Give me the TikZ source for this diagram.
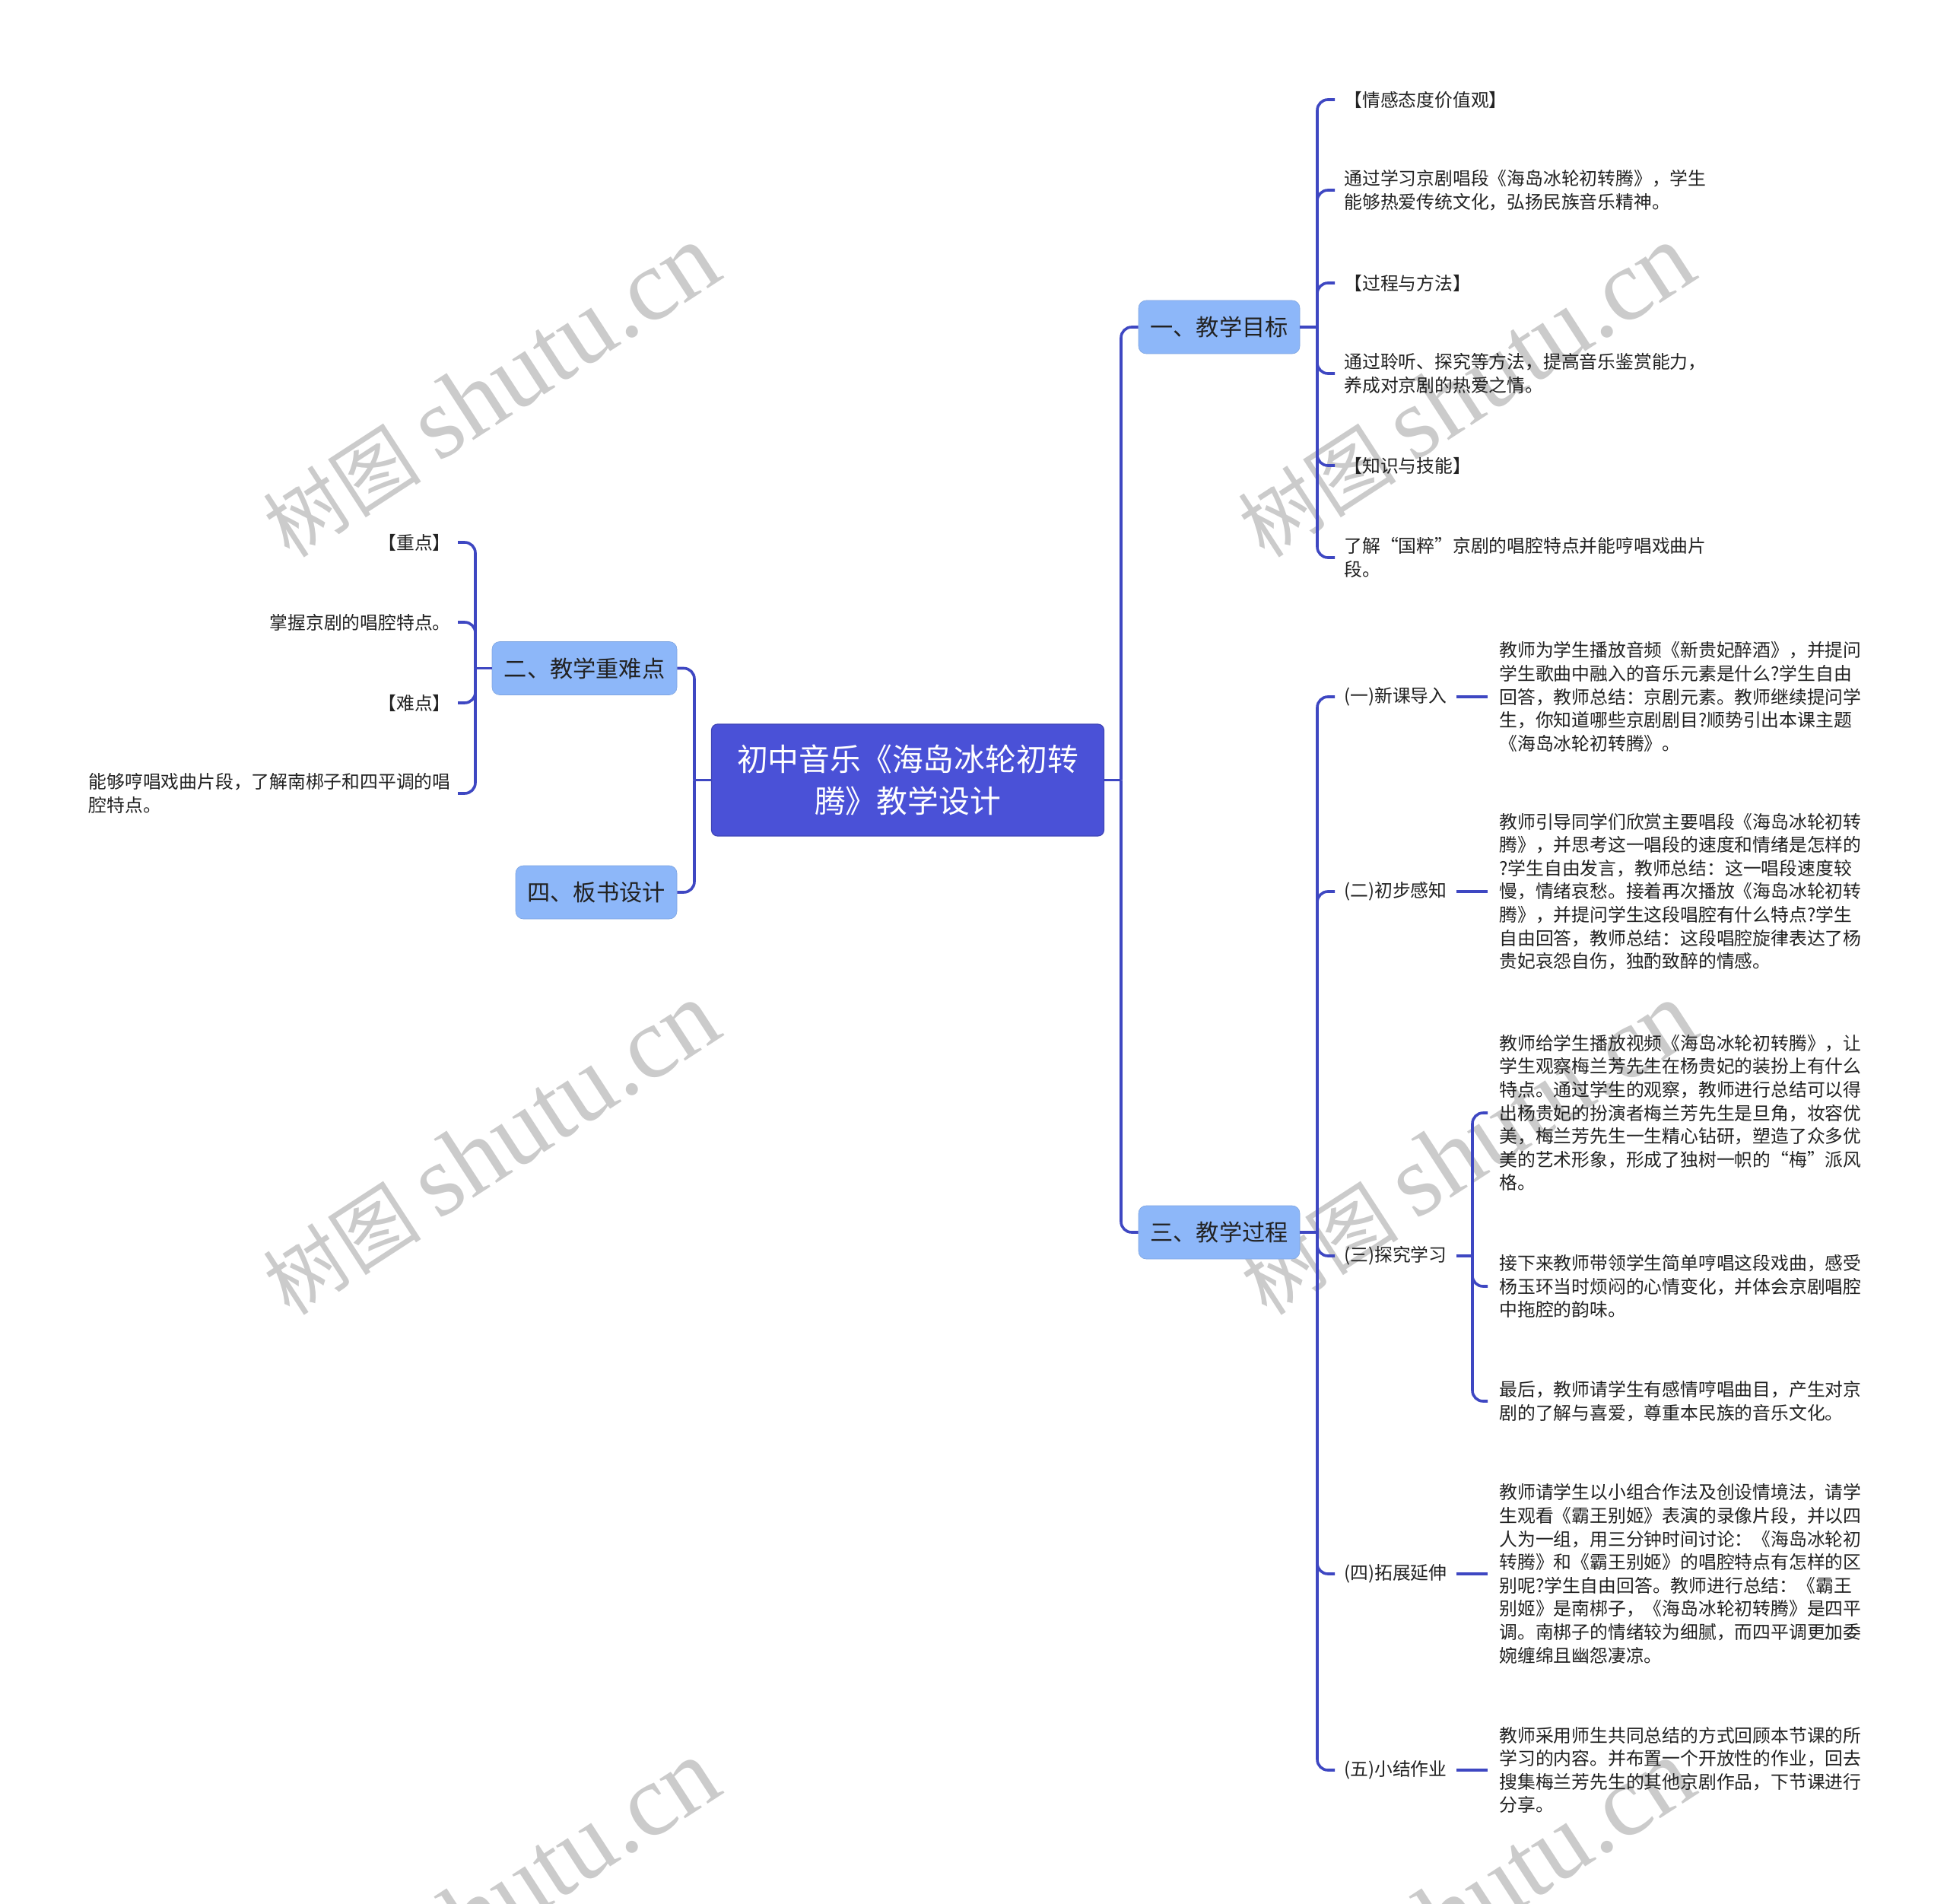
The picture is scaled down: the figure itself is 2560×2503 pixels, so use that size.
\documentclass[tikz,border=0pt]{standalone}
\usepackage{fontspec}
\setmainfont{Noto Sans CJK SC}
\newfontfamily\wmfont{Liberation Serif}
\newfontfamily\cjkfont{Noto Sans CJK SC}
\definecolor{rootc}{HTML}{4A51D7}
\definecolor{lvc}{HTML}{8DB7F9}
\definecolor{linec}{HTML}{3E47C2}
\definecolor{wmc}{HTML}{CBCBCB}
\definecolor{txtc}{HTML}{222222}
\begin{document}
\begin{tikzpicture}[x=0.5pt,y=-0.5pt,
  conn/.style={draw=linec, line width=1.8pt, rounded corners=7pt},
  rootbox/.style={fill=rootc, draw=rootc!85!black, line width=0.6pt, rounded corners=4pt, text=white,
    font=\fontsize{20.4pt}{27.8pt}\selectfont, align=center, inner sep=0pt,
    minimum width=258pt, minimum height=73.5pt},
  lvbox/.style={fill=lvc, draw=lvc!90!black, line width=0.3pt, rounded corners=5pt, text=txtc,
    font=\fontsize{15.1pt}{18pt}\selectfont, inner sep=0pt, minimum height=35pt},
  leaf/.style={font=\fontsize{11.9pt}{15.3pt}\selectfont, align=left, inner xsep=6pt, inner ysep=0pt, text=txtc},
  leafR/.style={leaf, anchor=west, inner xsep=7.5pt},
  leafL/.style={leaf, anchor=east, inner xsep=4.5pt},
  wm/.style={text=wmc, inner sep=0pt, rotate=33}
]
\useasboundingbox (0,0) rectangle (2560,2503);
\fill[white] (0,0) rectangle (2560,2503);

% watermarks
\begin{scope}
\clip (0,0) rectangle (2560,2503);
\foreach \x/\y [count=\i] in {645/514, 645/1510, 1927/514, 1930/1510, 645/2506, 1927/2506}
  \node[wm] (wm\i) at (\x,\y) {\fontsize{52pt}{56pt}\selectfont\cjkfont 树图\hspace{12pt}\fontsize{67pt}{70pt}\selectfont\wmfont shutu.cn};
\end{scope}

% main nodes
\node[rootbox] (root) at (1193.5,1025.5) {初中音乐《海岛冰轮初转\\腾》教学设计};
\node[lvbox, minimum width=106pt] (n1) at (1603,430) {一、教学目标};
\node[lvbox, minimum width=106pt] (n3) at (1603,1620) {三、教学过程};
\node[lvbox, minimum width=121.5pt] (n2) at (768.5,878.5) {二、教学重难点};
\node[lvbox, minimum width=106pt] (n4) at (784,1173) {四、板书设计};

\coordinate (jR) at (1474,1025.5);
\coordinate (jL) at (913,1025.5);
\coordinate (j1) at (1732,430);
\coordinate (j3) at (1732,1620);
\coordinate (j2) at (625,878.5);
\coordinate (j33) at (1936,1651);

% branch 1
\node[leaf, anchor=west] (a1) at (1755,131) {【情感态度价值观】};
\node[leaf, anchor=west] (a2) at (1755,250) {通过学习京剧唱段《海岛冰轮初转腾》，学生\\能够热爱传统文化，弘扬民族音乐精神。};
\node[leaf, anchor=west] (a3) at (1755,372) {【过程与方法】};
\node[leaf, anchor=west] (a4) at (1755,491) {通过聆听、探究等方法，提高音乐鉴赏能力，\\养成对京剧的热爱之情。};
\node[leaf, anchor=west] (a5) at (1755,612) {【知识与技能】};
\node[leaf, anchor=west] (a6) at (1755,733) {了解“国粹”京剧的唱腔特点并能哼唱戏曲片\\段。};

% branch 3
\node[leaf, anchor=west] (b1) at (1755,916) {(一)新课导入};
\node[leaf, anchor=west] (b2) at (1755,1172) {(二)初步感知};
\node[leaf, anchor=west] (b3) at (1755,1651) {(三)探究学习};
\node[leaf, anchor=west] (b4) at (1755,2069) {(四)拓展延伸};
\node[leaf, anchor=west] (b5) at (1755,2327) {(五)小结作业};

\node[leafR] (c1) at (1956,916) {教师为学生播放音频《新贵妃醉酒》，并提问\\学生歌曲中融入的音乐元素是什么?学生自由\\回答，教师总结：京剧元素。教师继续提问学\\生，你知道哪些京剧剧目?顺势引出本课主题\\《海岛冰轮初转腾》。};
\node[leafR] (c2) at (1956,1172) {教师引导同学们欣赏主要唱段《海岛冰轮初转\\腾》，并思考这一唱段的速度和情绪是怎样的\\?学生自由发言，教师总结：这一唱段速度较\\慢，情绪哀愁。接着再次播放《海岛冰轮初转\\腾》，并提问学生这段唱腔有什么特点?学生\\自由回答，教师总结：这段唱腔旋律表达了杨\\贵妃哀怨自伤，独酌致醉的情感。};
\node[leafR] (c3a) at (1956,1463) {教师给学生播放视频《海岛冰轮初转腾》，让\\学生观察梅兰芳先生在杨贵妃的装扮上有什么\\特点。通过学生的观察，教师进行总结可以得\\出杨贵妃的扮演者梅兰芳先生是旦角，妆容优\\美，梅兰芳先生一生精心钻研，塑造了众多优\\美的艺术形象，形成了独树一帜的“梅”派风\\格。};
\node[leafR] (c3b) at (1956,1691) {接下来教师带领学生简单哼唱这段戏曲，感受\\杨玉环当时烦闷的心情变化，并体会京剧唱腔\\中拖腔的韵味。};
\node[leafR] (c3c) at (1956,1842) {最后，教师请学生有感情哼唱曲目，产生对京\\剧的了解与喜爱，尊重本民族的音乐文化。};
\node[leafR] (c4) at (1956,2069) {教师请学生以小组合作法及创设情境法，请学\\生观看《霸王别姬》表演的录像片段，并以四\\人为一组，用三分钟时间讨论：《海岛冰轮初\\转腾》和《霸王别姬》的唱腔特点有怎样的区\\别呢?学生自由回答。教师进行总结：《霸王\\别姬》是南梆子，《海岛冰轮初转腾》是四平\\调。南梆子的情绪较为细腻，而四平调更加委\\婉缠绵且幽怨凄凉。};
\node[leafR] (c5) at (1956,2327) {教师采用师生共同总结的方式回顾本节课的所\\学习的内容。并布置一个开放性的作业，回去\\搜集梅兰芳先生的其他京剧作品，下节课进行\\分享。};

% branch 2
\node[leafL] (d1) at (602,713) {【重点】};
\node[leafL] (d2) at (602,818) {掌握京剧的唱腔特点。};
\node[leafL] (d3) at (602,924) {【难点】};
\node[leafL] (d4) at (602,1043) {能够哼唱戏曲片段，了解南梆子和四平调的唱\\腔特点。};

% connectors
\draw[conn] (root.east) -- (jR);
\draw[conn] (jR) |- (n1.west);
\draw[conn] (jR) |- (n3.west);
\draw[conn] (root.west) -- (jL);
\draw[conn] (jL) |- (n2.east);
\draw[conn] (jL) |- (n4.east);
\draw[conn] (n1.east) -- (j1);
\foreach \n in {a1,a2,a3,a4,a5,a6} \draw[conn] (j1) |- (\n.west);
\draw[conn] (n3.east) -- (j3);
\foreach \n in {b1,b2,b3,b4,b5} \draw[conn] (j3) |- (\n.west);
\draw[conn] (b1.east) -- (c1.west);
\draw[conn] (b2.east) -- (c2.west);
\draw[conn] (b4.east) -- (c4.west);
\draw[conn] (b5.east) -- (c5.west);
\draw[conn] (b3.east) -- (j33);
\foreach \n in {c3a,c3b,c3c} \draw[conn] (j33) |- (\n.west);
\draw[conn] (n2.west) -- (j2);
\foreach \n in {d1,d2,d3,d4} \draw[conn] (j2) |- (\n.east);
\end{tikzpicture}
\end{document}
